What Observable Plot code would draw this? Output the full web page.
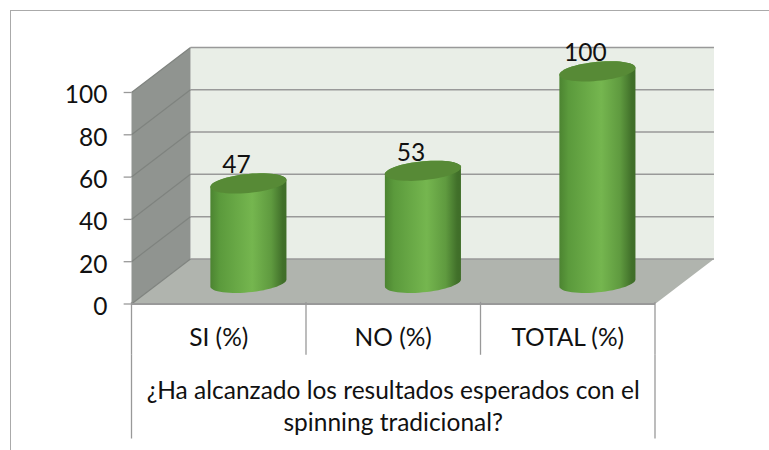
<!DOCTYPE html>
<html>
<head>
<meta charset="utf-8">
<script src="https://cdn.jsdelivr.net/npm/d3@7"></script>
<script src="https://cdn.jsdelivr.net/npm/@observablehq/plot@0.6"></script>
<style>
  html, body { margin: 0; padding: 0; background: #fff; overflow: hidden; }
  #chart { position: relative; width: 769px; height: 450px; }
  #frame { position: absolute; left: 10px; top: 10px; right: 0; bottom: 0;
           border-top: 1.5px solid #aaa; border-left: 1.5px solid #aaa; }
  #chart svg { position: absolute; left: 0; top: 0; }
</style>
</head>
<body>
<div id="chart"><div id="frame"></div></div>
<script>
const categories = ["SI (%)", "NO (%)", "TOTAL (%)"];
const values = [47, 53, 100];
const yTicks = [0, 20, 40, 60, 80, 100];
const questionLines = ["¿Ha alcanzado los resultados esperados con el", "spinning tradicional?"];
const boundaries = [0, 1, 2, 3];

// Depth of the box, expressed in scale units so the walls follow the x and y scales.
const depthX = 0.338, depthY = 21.3;
// Cylinder footprint, also in scale units.
const centerShift = 0.67, baseValue = 10;
const radiusX = 0.218, radiusY = 4.5, tilt = 1.65;

const ring = (i, level, deg) => {
  const a = deg * Math.PI / 180;
  return {
    c: categories[i],
    x: i + centerShift + radiusX * Math.cos(a),
    y: level + radiusY * Math.sin(a) + tilt * Math.cos(a)
  };
};
// Body outline: upper half of the top ring, then the lower half of the base ring.
const bodies = values.flatMap((v, i) => [
  ...d3.range(0, 181, 6).map(d => ring(i, baseValue + v, d)),
  ...d3.range(180, 361, 6).map(d => ring(i, baseValue, d))
]);
const tops = values.flatMap((v, i) => d3.range(0, 361, 6).map(d => ring(i, baseValue + v, d)));

const floor = [
  {x: 0, y: 0}, {x: 3, y: 0},
  {x: 3 + depthX, y: depthY}, {x: depthX, y: depthY}, {x: 0, y: 0}
];
const backWall = [
  {x: depthX, y: depthY}, {x: 3 + depthX, y: depthY},
  {x: 3 + depthX, y: 100 + depthY}, {x: depthX, y: 100 + depthY}, {x: depthX, y: depthY}
];
const sideWall = [
  {x: 0, y: 0}, {x: depthX, y: depthY},
  {x: depthX, y: 100 + depthY}, {x: 0, y: 100}, {x: 0, y: 0}
];
const xy = {x: "x", y: "y"};
const font = 24.5;

const plot = Plot.plot({
  width: 769,
  height: 450,
  margin: 0,
  x: {type: "linear", domain: [0, 3], range: [131, 654.5], axis: null},
  y: {type: "linear", domain: [0, 100], range: [303.5, 92], axis: null},
  style: {background: "transparent", fontFamily: "Lato, 'Open Sans', sans-serif"},
  marks: [
    // Box: back wall, side wall, floor
    Plot.line(backWall, {...xy, fill: "#e9eee7", stroke: "none"}),
    Plot.line(sideWall, {...xy, fill: "#909490", stroke: "none"}),
    Plot.line(floor, {...xy, fill: "#b0b4ae", stroke: "none"}),

    // Gridlines along the back wall and slanting across the side wall
    Plot.link(yTicks, {
      x1: () => depthX, x2: () => 3 + depthX, y1: d => d + depthY, y2: d => d + depthY,
      stroke: "#999", strokeWidth: 1.5
    }),
    Plot.link(yTicks, {
      x1: () => 0, x2: () => depthX, y1: d => d, y2: d => d + depthY,
      stroke: "#7f837f", strokeWidth: 1.2
    }),

    // Front floor edge and the two-level category dividers
    Plot.link([0], {x1: () => 0, x2: () => 3, y1: () => 0, y2: () => 0, stroke: "#999", strokeWidth: 2}),
    Plot.link(boundaries, {x1: d => d, x2: d => d, y1: () => 1, y2: () => -24, stroke: "#999", strokeWidth: 1.3}),
    Plot.link([0, 3], {x1: d => d, x2: d => d, y1: () => -24, y2: () => -63.6, stroke: "#999", strokeWidth: 1.3}),

    // Value axis
    Plot.link(yTicks, {x1: () => -0.045, x2: () => 0, y1: d => d, y2: d => d, stroke: "#999", strokeWidth: 1.3}),
    Plot.text(yTicks, {
      x: () => 0, y: d => d, text: d => String(d), textAnchor: "end", dx: -24, dy: 3,
      fontSize: font, fill: "#111"
    }),

    // Cylinders
    Plot.line(bodies, {...xy, z: "c", fill: "url(#cylinder)", stroke: "none"}),
    Plot.line(tops, {...xy, z: "c", fill: "#578a36", stroke: "none"}),

    // Value labels sit just above each cylinder's top
    Plot.text(values, {
      x: (d, i) => i + centerShift, y: d => d + baseValue, text: d => String(d),
      dx: -12, dy: -18, fontSize: font, fill: "#111"
    }),

    // Category and question labels below the axis
    Plot.text(categories, {
      x: (d, i) => i + 0.5, y: () => 0, text: d => d, dy: 34.5, fontSize: font, fill: "#111"
    }),
    Plot.text(questionLines.slice(0, 1), {x: () => 1.5, y: () => 0, text: d => d, dy: 87, fontSize: font, fill: "#111"}),
    Plot.text(questionLines.slice(1), {x: () => 1.5, y: () => 0, text: d => d, dy: 119, fontSize: font, fill: "#111"})
  ]
});

// Horizontal shading that gives the cylinders their round look
const defs = d3.select(plot).insert("defs", ":first-child");
const gradient = defs.append("linearGradient").attr("id", "cylinder")
  .attr("x1", 0).attr("x2", 1).attr("y1", 0).attr("y2", 0);
[[0, "#4c8431"], [0.12, "#5b9a3c"], [0.55, "#75b64f"], [0.8, "#5f9a3f"], [0.95, "#41702a"], [1, "#3f6d28"]]
  .forEach(([o, c]) => gradient.append("stop").attr("offset", o).attr("stop-color", c));

document.getElementById("chart").appendChild(plot);
</script>
</body>
</html>
